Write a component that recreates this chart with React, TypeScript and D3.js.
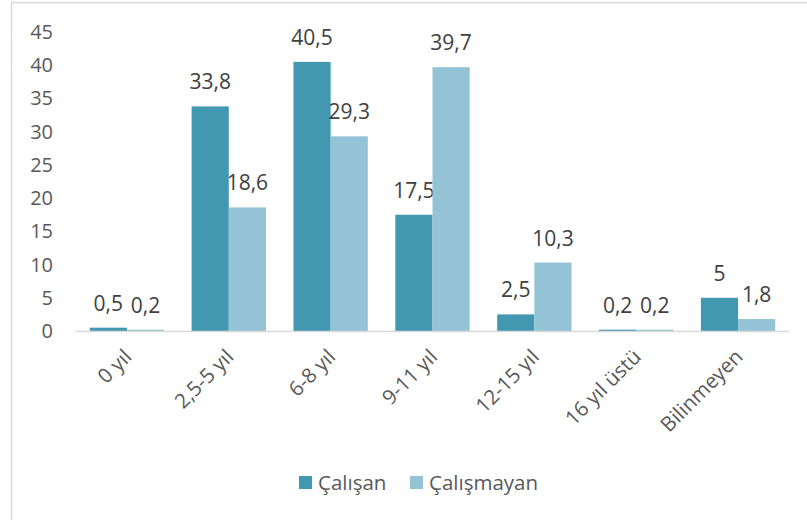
import React from "react";
import * as d3 from "d3";

const categories = ["0 yıl", "2,5-5 yıl", "6-8 yıl", "9-11 yıl", "12-15 yıl", "16 yıl üstü", "Bilinmeyen"];
const calisan = [0.5, 33.8, 40.5, 17.5, 2.5, 0.2, 5];
const calismayan = [0.2, 18.6, 29.3, 39.7, 10.3, 0.2, 1.8];
const seriesNames = ["Çalışan", "Çalışmayan"];
const yTicks = [0, 5, 10, 15, 20, 25, 30, 35, 40, 45];

const W = 807, H = 520;
const colors = ["#4298B0", "#93C3D5"];
const font = "'Open Sans', 'Noto Sans', sans-serif";
const fmt = (v: number) => String(v).replace(".", ",");

export default function App() {
  const x = d3.scaleBand<string>().domain(categories).range([76, 789]).paddingInner(0.27).paddingOuter(0.135);
  const x1 = d3.scaleBand<string>().domain(seriesNames).range([0, x.bandwidth()]);
  const y = d3.scaleLinear().domain([0, 45]).range([331, 32]);
  const series = [calisan, calismayan];

  return (
    <svg width={W} height={H} style={{ position: "absolute", left: 0, top: 0, background: "#fff" }}>
      <rect x={0} y={0} width={W} height={H} fill="#fff" />
      <line x1={11.5} x2={11.5} y1={2} y2={H} stroke="#d9d9d9" strokeWidth={1.5} />
      <line x1={11} x2={W} y1={2.5} y2={2.5} stroke="#d9d9d9" strokeWidth={1.5} />
      {yTicks.map((t) => (
        <text key={t} x={53} y={y(t)} dy="0.35em" textAnchor="end" fontSize={20} fill="#595959" fontFamily={font}>
          {t}
        </text>
      ))}
      {categories.map((c, i) => (
        <g key={c}>
          {series.map((s, j) => {
            const bx = (x(c) as number) + (x1(seriesNames[j]) as number);
            const bw = x1.bandwidth();
            return (
              <g key={j}>
                <rect x={bx} y={y(s[i])} width={bw} height={331 - y(s[i])} fill={colors[j]} />
                <text x={bx + bw / 2} y={y(s[i]) - 17} textAnchor="middle" fontSize={21} fill="#404040" fontFamily={font}>
                  {fmt(s[i])}
                </text>
              </g>
            );
          })}
          <text
            transform={`translate(${(x(c) as number) + x.bandwidth() / 2 + 1},${353}) rotate(-45)`}
            textAnchor="end"
            dy="0.35em"
            fontSize={20.5}
            fill="#595959"
            fontFamily={font}
          >
            {c}
          </text>
        </g>
      ))}
      <line x1={76} x2={789} y1={331.5} y2={331.5} stroke="#d9d9d9" strokeWidth={1.5} />
      {seriesNames.map((n, j) => {
        const lx = j === 0 ? 299 : 410;
        return (
          <g key={n}>
            <rect x={lx} y={476} width={13} height={13} fill={colors[j]} />
            <text x={lx + 19} y={483} dy="0.35em" fontSize={20.5} fill="#595959" fontFamily={font}>
              {n}
            </text>
          </g>
        );
      })}
    </svg>
  );
}
